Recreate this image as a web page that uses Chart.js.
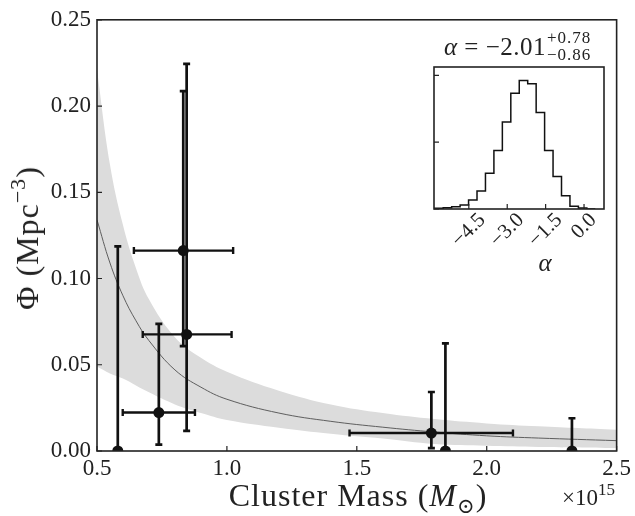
<!DOCTYPE html>
<html>
<head>
<meta charset="utf-8">
<script src="https://cdn.jsdelivr.net/npm/chart.js@4.4.0/dist/chart.umd.min.js"></script>
<style>
  body { margin: 0; background: #fff; }
  #wrap { position: relative; width: 635px; height: 516px; font-family: "Liberation Serif", "DejaVu Serif", serif; color: #222; }
  canvas { position: absolute; }
  #main { left: 0; top: 0; }
  #inset { left: 420px; top: 60px; }
  .lbl { position: absolute; white-space: nowrap; line-height: 1; }
</style>
</head>
<body>
<div id="wrap">
  <canvas id="main" width="635" height="516"></canvas>
  <canvas id="inset" width="200" height="200"></canvas>

  <div class="lbl" style="left:27px; top:238px; font-size:32px; letter-spacing:1px; transform: translate(-50%, -50%) rotate(-90deg);">&Phi; (Mpc<span style="font-size:22px; position:relative; top:-13px;">&minus;3</span>)</div>
  <div class="lbl" style="left:358px; top:479px; font-size:32px; letter-spacing:1px; transform: translateX(-50%);">Cluster Mass (<i>M</i><span style="font-size:21px; position:relative; top:7px;">&#8857;</span>)</div>
  <div class="lbl" style="right:20px; top:486px; font-size:23px;">&times;10<span style="font-size:17px; position:relative; top:-10px;">15</span></div>

  <div class="lbl" style="right:89px; top:34px; font-size:25px; letter-spacing:0.5px;"><i>&alpha;</i> = &minus;2.01</div>
  <div class="lbl" style="left:547px; top:29px; font-size:17px; letter-spacing:1px;">+0.78</div>
  <div class="lbl" style="left:547px; top:46px; font-size:17px; letter-spacing:1px;">&minus;0.86</div>
  <div class="lbl" style="left:545px; top:262px; font-size:25px; transform: translate(-50%, -50%);"><i>&alpha;</i></div>
</div>

<script>
// best-fit curve and 1-sigma band (mass in 1e15 Msun)
const massGrid = [0.5, 0.55, 0.6, 0.65, 0.7, 0.8, 0.9, 1.0, 1.2, 1.4, 1.6, 1.8, 2.0, 2.2, 2.5];
const fitMid   = [0.134, 0.109, 0.090, 0.0755, 0.064, 0.047, 0.037, 0.030, 0.022, 0.0172, 0.0138, 0.0110, 0.0088, 0.0075, 0.0060];
const fitUpper = [0.221, 0.166, 0.131, 0.106, 0.088, 0.066, 0.054, 0.046, 0.035, 0.027, 0.022, 0.0185, 0.016, 0.0143, 0.0123];
const fitLower = [0.049, 0.045, 0.042, 0.038, 0.034, 0.027, 0.022, 0.018, 0.0135, 0.010, 0.0072, 0.0040, 0.0030, 0.0023, 0.0017];

// measured clusters
const clusterMass = [0.580, 0.738, 0.832, 0.845, 1.787, 1.841, 2.328];
const clusterPhi  = [0, 0.0223, 0.1162, 0.0676, 0.0104, 0, 0];
const phiLow      = [0, 0.0037, 0.0608, 0.0117, 0.0017, 0, 0];
const phiHigh     = [0.1186, 0.0737, 0.2086, 0.2244, 0.0342, 0.0624, 0.019];
const massLow     = [null, 0.599, 0.642, 0.676, 1.472, null, null];
const massHigh    = [null, 0.877, 1.024, 1.018, 2.101, null, null];

// inset: posterior histogram of alpha
const alphaEdges  = [-5.50, -5.17, -4.84, -4.51, -4.18, -3.85, -3.52, -3.19, -2.86, -2.53, -2.20, -1.87, -1.54, -1.21, -0.88, -0.55, -0.22, 0.11, 0.44];
const alphaCounts = [10, 20, 35, 60, 136, 268, 535, 874, 1303, 1732, 1924, 1874, 1444, 874, 485, 197, 40, 15];
const alphaTicks  = [-4.5, -3.0, -1.5, 0.0];
const countTicks  = [0, 1000, 2000];

const serif = '"Liberation Serif", "DejaVu Serif", serif';
const ink = '#222';

// frame on all four sides plus inward tick marks
const boxTicks = {
  id: 'boxTicks',
  afterDraw(chart, args, opts) {
    const { ctx, chartArea: a, scales } = chart;
    ctx.save();
    ctx.strokeStyle = ink;
    ctx.lineWidth = 1.2;
    ctx.beginPath();
    scales.x.ticks.forEach(t => {
      const px = scales.x.getPixelForValue(t.value);
      ctx.moveTo(px, a.bottom);
      ctx.lineTo(px, a.bottom - opts.len);
    });
    scales.y.ticks.forEach(t => {
      const py = scales.y.getPixelForValue(t.value);
      ctx.moveTo(a.left, py);
      ctx.lineTo(a.left + opts.len, py);
    });
    ctx.stroke();
    ctx.lineWidth = 1.6;
    ctx.strokeRect(a.left, a.top, a.right - a.left, a.bottom - a.top);
    ctx.restore();
  }
};

// error bars drawn just before the markers
const errorBars = {
  id: 'errorBars',
  beforeDatasetDraw(chart, args) {
    if (args.index !== 0) return;
    const { ctx, chartArea: a, scales: { x, y } } = chart;
    const cap = 3.5;
    ctx.save();
    ctx.beginPath();
    ctx.rect(a.left, a.top, a.right - a.left, a.bottom - a.top);
    ctx.clip();
    ctx.strokeStyle = '#111';
    clusterMass.forEach((m, i) => {
      const px = x.getPixelForValue(m);
      const py = y.getPixelForValue(clusterPhi[i]);
      const top = y.getPixelForValue(phiHigh[i]);
      const bot = y.getPixelForValue(phiLow[i]);
      ctx.lineWidth = 2.7;
      ctx.beginPath();
      ctx.moveTo(px, bot); ctx.lineTo(px, top);
      ctx.moveTo(px - cap, top); ctx.lineTo(px + cap, top);
      ctx.moveTo(px - cap, bot); ctx.lineTo(px + cap, bot);
      ctx.stroke();
      if (massLow[i] !== null) {
        const l = x.getPixelForValue(massLow[i]);
        const r = x.getPixelForValue(massHigh[i]);
        ctx.lineWidth = 2.4;
        ctx.beginPath();
        ctx.moveTo(l, py); ctx.lineTo(r, py);
        ctx.moveTo(l, py - cap); ctx.lineTo(l, py + cap);
        ctx.moveTo(r, py - cap); ctx.lineTo(r, py + cap);
        ctx.stroke();
      }
    });
    ctx.restore();
  }
};

const toPoints = (xs, ys) => xs.map((v, i) => ({ x: v, y: ys[i] }));

new Chart(document.getElementById('main'), {
  type: 'scatter',
  data: {
    datasets: [
      {
        data: toPoints(clusterMass, clusterPhi),
        pointRadius: 5.5,
        pointHoverRadius: 5.5,
        backgroundColor: '#111',
        borderWidth: 0
      },
      {
        data: toPoints(massGrid, fitMid),
        showLine: true,
        borderColor: '#5e5e5e',
        borderWidth: 1,
        pointRadius: 0,
        tension: 0.4
      },
      {
        data: toPoints(massGrid, fitUpper),
        showLine: true,
        fill: '+1',
        backgroundColor: '#dcdcdc',
        borderWidth: 0,
        pointRadius: 0,
        tension: 0.4
      },
      {
        data: toPoints(massGrid, fitLower),
        showLine: true,
        borderWidth: 0,
        pointRadius: 0,
        tension: 0.4
      }
    ]
  },
  options: {
    responsive: false,
    animation: false,
    events: [],
    layout: { padding: { left: 0, top: 19, right: 17, bottom: 0 } },
    scales: {
      x: {
        type: 'linear',
        min: 0.5,
        max: 2.5,
        grid: { display: false, drawTicks: false },
        border: { display: false },
        ticks: {
          stepSize: 0.5,
          padding: 4,
          color: ink,
          font: { family: serif, size: 23 },
          callback: v => v.toFixed(1)
        },
        afterFit: s => { s.height = 65; }
      },
      y: {
        min: 0,
        max: 0.25,
        grid: { display: false, drawTicks: false },
        border: { display: false },
        ticks: {
          stepSize: 0.05,
          padding: 6,
          color: ink,
          font: { family: serif, size: 23 },
          callback: v => v.toFixed(2)
        },
        afterFit: s => { s.width = 97; }
      }
    },
    plugins: {
      legend: { display: false },
      tooltip: { enabled: false },
      boxTicks: { len: 5 }
    }
  },
  plugins: [boxTicks, errorBars]
});

// rotated inset tick labels, centred under their ticks
const insetLabels = {
  id: 'insetLabels',
  afterDraw(chart) {
    const { ctx, chartArea: a, scales: { x } } = chart;
    ctx.save();
    ctx.fillStyle = ink;
    ctx.font = '21px ' + serif;
    ctx.textAlign = 'center';
    ctx.textBaseline = 'middle';
    alphaTicks.forEach(v => {
      const txt = v.toFixed(1).replace('-', '\u2212');
      const w = ctx.measureText(txt).width;
      const h = (w + 14) * Math.SQRT1_2;
      const px = x.getPixelForValue(v);
      ctx.save();
      ctx.translate(px, a.bottom + 3 + h / 2);
      ctx.rotate(-Math.PI / 4);
      ctx.fillText(txt, 0, 0);
      ctx.restore();
    });
    ctx.restore();
  }
};

const histPoints = [{ x: -5.86, y: 0 }]
  .concat(alphaCounts.map((c, i) => ({ x: alphaEdges[i], y: c })))
  .concat([{ x: alphaEdges[alphaEdges.length - 1], y: 0 }]);

new Chart(document.getElementById('inset'), {
  type: 'scatter',
  data: {
    datasets: [{
      data: histPoints,
      showLine: true,
      stepped: 'after',
      borderColor: '#111',
      borderWidth: 1.5,
      pointRadius: 0
    }]
  },
  options: {
    responsive: false,
    animation: false,
    events: [],
    layout: { padding: { left: 14, top: 7, right: 16, bottom: 0 } },
    scales: {
      x: {
        type: 'linear',
        min: -5.86,
        max: 0.78,
        grid: { display: false, drawTicks: false },
        border: { display: false },
        ticks: { display: false },
        afterBuildTicks: s => { s.ticks = alphaTicks.map(v => ({ value: v })); },
        afterFit: s => { s.height = 51; }
      },
      y: {
        display: false,
        min: 0,
        max: 2126,
        afterBuildTicks: s => { s.ticks = countTicks.map(v => ({ value: v })); }
      }
    },
    plugins: {
      legend: { display: false },
      tooltip: { enabled: false },
      boxTicks: { len: 5 }
    }
  },
  plugins: [boxTicks, insetLabels]
});
</script>
</body>
</html>
